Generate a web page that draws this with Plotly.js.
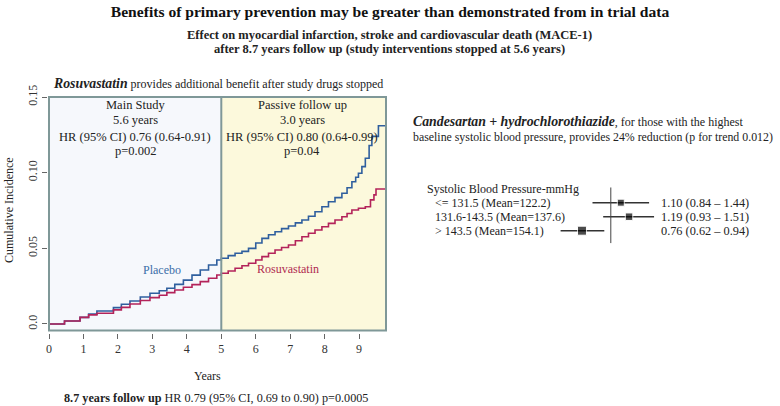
<!DOCTYPE html>
<html><head><meta charset="utf-8">
<script src="https://cdn.plot.ly/plotly-3.0.1.min.js"></script>
<style>html,body{margin:0;padding:0;background:#fff}#chart{width:780px;height:406px}</style>
</head><body><div id="chart"></div>
<script>
// ---- Data ----
const placeboYears = [0,0.45,0.9,1.15,1.39,1.87,2.1,2.35,2.65,2.93,3.2,3.42,3.65,3.9,4.15,4.39,4.63,4.87,5.0,5.2,5.4,5.6,5.79,6.0,6.18,6.37,6.56,6.75,6.95,7.15,7.34,7.53,7.72,7.92,8.11,8.3,8.5,8.65,8.79,8.9,8.98,9.08,9.18,9.29,9.37,9.56,9.76];
const placeboInc   = [0,0.002,0.0044,0.0065,0.0086,0.0108,0.013,0.0152,0.0178,0.0203,0.022,0.0236,0.0262,0.029,0.0323,0.0357,0.039,0.0423,0.0434,0.0452,0.0467,0.048,0.050,0.0535,0.0566,0.059,0.061,0.063,0.0648,0.0668,0.0687,0.0712,0.0742,0.0775,0.0808,0.0835,0.0864,0.09,0.094,0.097,0.0996,0.104,0.1095,0.118,0.124,0.131,0.131];
const rosuYears = [0,0.45,0.9,1.15,1.39,1.87,2.1,2.35,2.65,2.93,3.2,3.42,3.65,3.9,4.15,4.39,4.63,4.87,5.0,5.2,5.4,5.6,5.79,6.0,6.18,6.37,6.56,6.75,6.95,7.15,7.34,7.53,7.72,7.92,8.11,8.3,8.5,8.65,8.79,8.98,9.18,9.33,9.43,9.49,9.76];
const rosuInc   = [0,0.002,0.0044,0.006,0.0071,0.0093,0.011,0.0132,0.0155,0.0174,0.019,0.0207,0.0225,0.0243,0.026,0.028,0.0302,0.0324,0.0335,0.035,0.0368,0.0385,0.0401,0.0423,0.0445,0.0467,0.0489,0.0505,0.0522,0.055,0.0577,0.06,0.0621,0.0643,0.0665,0.0687,0.0709,0.073,0.0753,0.0765,0.0775,0.082,0.0853,0.0892,0.0892];
const xTicks = [0,1,2,3,4,5,6,7,8,9];
const yTicks = [0,0.05,0.10,0.15];
const yTickText = ['0.0','0.05','0.10','0.15'];
const studyEnd = 5;
const xMax = 9.78;

const sbpHeader = 'Systolic Blood Pressure-mmHg';
const sbpGroups = ['&lt;= 131.5 (Mean=122.2)','131.6-143.5 (Mean=137.6)','&gt; 143.5 (Mean=154.1)'];
const sbpHR = [1.10,1.19,0.76];
const sbpLo = [0.84,0.93,0.62];
const sbpHi = [1.44,1.51,0.94];

// ---- helpers ----
const W=780,H=406;
const px = x => x/W;
const py = y => 1 - y/H;
const serif = 'Liberation Serif, Times New Roman, serif';
const blue = '#2f5f9e', red = '#b3235a', frame = '#7f9898';
const bi = (t,s) => '<span style="font-size:'+s+'px"><b><i>'+t+'</i></b></span>';

const rows = sbpGroups.map((_,i)=>i+1);
const markerSizes = [7,7.5,9];

const traces = [
  {x: placeboYears, y: placeboInc, type:'scatter', mode:'lines', line:{color:blue,width:1.6,shape:'hv'}, xaxis:'x', yaxis:'y', hoverinfo:'skip'},
  {x: rosuYears, y: rosuInc, type:'scatter', mode:'lines', line:{color:red,width:1.6,shape:'hv'}, xaxis:'x', yaxis:'y', hoverinfo:'skip'},
  {x: sbpHR, y: rows, type:'scatter', mode:'markers', xaxis:'x2', yaxis:'y2',
   marker:{symbol:'square', color:'#000', size:markerSizes},
   error_x:{type:'data', symmetric:false, array: sbpHR.map((v,i)=>sbpHi[i]-v), arrayminus: sbpHR.map((v,i)=>v-sbpLo[i]), width:0, thickness:1.5, color:'#333'},
   hoverinfo:'skip'}
];

const ann = [];
function A(text,x,y,size,opts){ ann.push(Object.assign({text, x:px(x), y:py(y), xref:'paper', yref:'paper', showarrow:false, font:{family:serif,size,color:'#222'}, xanchor:'center', yanchor:'middle'}, opts||{})); }

A('<b>Effect on myocardial infarction, stroke and cardiovascular death (MACE-1)</b>',389,35,12.5);
A('<b>after 8.7 years follow up (study interventions stopped at 5.6 years)</b>',389,49,12.5);
A(bi('Rosuvastatin',13.8)+' provides additional benefit after study drugs stopped',51,83,12,{xanchor:'left'});
const boxFont = 12.5;
A('Main Study',135,105,boxFont); A('5.6 years',135,120,boxFont); A('HR (95% CI) 0.76 (0.64-0.91)',135,136.5,boxFont); A('p=0.002',135,151.5,boxFont);
A('Passive follow up',302,105,boxFont); A('3.0 years',302,120,boxFont); A('HR (95% CI) 0.80 (0.64-0.99)',302,136.5,boxFont); A('p=0.04',302,151.5,boxFont);
A('Placebo',162,270,12,{font:{family:serif,size:12,color:'#3a6ea8'}});
A('Rosuvastatin',288,269,12,{font:{family:serif,size:12,color:'#b02a50'}});
A('Cumulative Incidence',9,210,12,{textangle:-90});
A('Years',207,376,12);
A('<b>8.7 years follow up</b> HR 0.79 (95% CI, 0.69 to 0.90) p=0.0005',216,398,12.2);
A(bi('Candesartan + hydrochlorothiazide',13.8)+', for those with the highest',411,122,12,{xanchor:'left'});
A('baseline systolic blood pressure, provides 24% reduction (p for trend 0.012)',411,137,11.85,{xanchor:'left'});
ann.push({text:sbpHeader, x:px(425), y:0, xref:'paper', yref:'y2', showarrow:false, xanchor:'left', yanchor:'middle', font:{family:serif,size:12,color:'#222'}});
sbpGroups.forEach((g,i)=>{
  ann.push({text:g, x:px(433), y:rows[i], xref:'paper', yref:'y2', showarrow:false, xanchor:'left', yanchor:'middle', font:{family:serif,size:12,color:'#222'}});
  ann.push({text:sbpHR[i].toFixed(2)+' ('+sbpLo[i].toFixed(2)+' \u2013 '+sbpHi[i].toFixed(2)+')', x:px(659), y:rows[i], xref:'paper', yref:'y2', showarrow:false, xanchor:'left', yanchor:'middle', font:{family:serif,size:12.3,color:'#222'}});
});

const shapes = [
  {type:'rect', xref:'x', yref:'y domain', x0:0, x1:studyEnd, y0:0, y1:1, fillcolor:'#f6f8fc', line:{width:0}, layer:'below'},
  {type:'rect', xref:'x', yref:'y domain', x0:studyEnd, x1:xMax, y0:0, y1:1, fillcolor:'#fcf9dc', line:{width:0}, layer:'below'},
  {type:'line', xref:'x', yref:'y domain', x0:studyEnd, x1:studyEnd, y0:0, y1:1, line:{color:frame,width:2}},
  {type:'rect', xref:'x domain', yref:'y domain', x0:0, x1:1, y0:0, y1:1, line:{color:frame,width:2}},
  {type:'line', xref:'x2', yref:'y2', x0:1, x1:1, y0:-0.1, y1:3.9, line:{color:'#444',width:1}}
];

const layout = {
  width:W, height:H, margin:{l:0,r:0,t:0,b:0}, paper_bgcolor:'#fff', plot_bgcolor:'rgba(0,0,0,0)',
  showlegend:false,
  title:{text:'<b>Benefits of primary prevention may be greater than demonstrated from in trial data</b>', x:0.5, xref:'paper', y:py(12), yref:'paper', yanchor:'middle', font:{family:serif,size:15.6,color:'#111'}},
  xaxis:{domain:[px(49),px(386)], range:[0,xMax], anchor:'free', position:py(332.5), tickvals:xTicks, ticks:'outside', ticklen:5, tickcolor:'#666', showline:false, showgrid:false, zeroline:false, tickfont:{family:serif,size:12,color:'#333'}},
  yaxis:{domain:[py(330.5),py(97)], range:[-0.0043,0.15], anchor:'free', position:px(47), tickvals:yTicks, ticktext:yTickText, tickangle:-90, ticks:'outside', ticklen:5, tickcolor:'#666', showline:false, showgrid:false, zeroline:false, tickfont:{family:serif,size:12,color:'#333'}},
  xaxis2:{domain:[px(540),px(680)], type:'log', range:[-0.2928,0.2862], anchor:'y2', visible:false},
  yaxis2:{domain:[py(243.3),py(187.3)], range:[3.9,-0.1], anchor:'x2', visible:false},
  annotations:ann, shapes
};
Plotly.newPlot('chart', traces, layout, {staticPlot:true, displayModeBar:false});
</script></body></html>
